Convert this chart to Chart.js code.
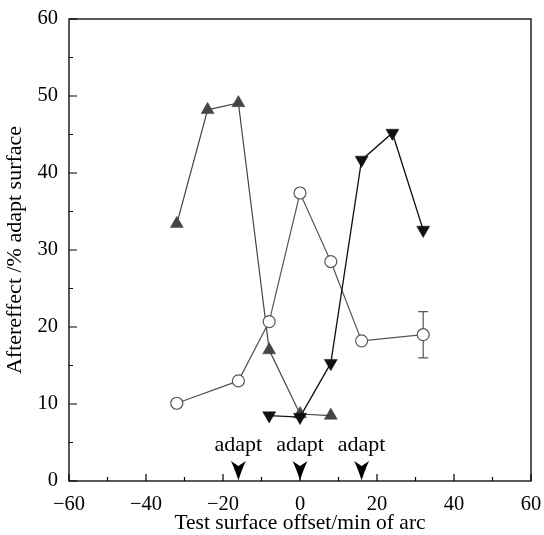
<!DOCTYPE html>
<html>
<head>
<meta charset="utf-8">
<script src="https://cdn.jsdelivr.net/npm/chart.js@4/dist/chart.umd.min.js"></script>
<style>
  html, body { margin: 0; padding: 0; background: #fff; }
  #wrap { width: 544px; height: 535px; }
</style>
</head>
<body>
<div id="wrap"><canvas id="chart"></canvas></div>
<script>
// Upward triangles (grey)
const upX = [-32, -24, -16, -8, 0, 8];
const upY = [33.4, 48.2, 49.1, 17.0, 8.7, 8.5];

// Open circles, last point carries an error bar
const circleX = [-32, -16, -8, 0, 8, 16, 32];
const circleY = [10.1, 13.0, 20.7, 37.4, 28.5, 18.2, 19.0];
const circleErr = [0, 0, 0, 0, 0, 0, 3];

// Downward triangles (black)
const downX = [-8, 0, 8, 16, 24, 32];
const downY = [8.5, 8.3, 15.3, 41.7, 45.2, 32.6];

// Adapt surface positions
const adaptX = [-16, 0, 16];
const adaptLabel = "adapt";

const FONT = "'Liberation Serif', 'DejaVu Serif', serif";

function toPoints(xs, ys) {
  return xs.map((x, i) => ({ x: x, y: ys[i] }));
}

function minusLabel(v) {
  return v < 0 ? "\u2212" + Math.abs(v) : String(v);
}

/**
 * Frame, inward ticks, error bars and the "adapt" arrows.
 */
const decorPlugin = {
  id: "decor",
  afterDatasetsDraw(chart) {
    const { ctx, chartArea: a, scales } = chart;
    const xs = scales.x;
    const ys = scales.y;
    ctx.save();

    // error bars on circles
    ctx.strokeStyle = "#555";
    ctx.lineWidth = 1.2;
    circleX.forEach((x, i) => {
      const e = circleErr[i];
      if (!e) return;
      const px = xs.getPixelForValue(x);
      const top = ys.getPixelForValue(circleY[i] + e);
      const bot = ys.getPixelForValue(circleY[i] - e);
      const c = ys.getPixelForValue(circleY[i]);
      ctx.beginPath();
      ctx.moveTo(px, top); ctx.lineTo(px, c - 6);
      ctx.moveTo(px, c + 6); ctx.lineTo(px, bot);
      ctx.moveTo(px - 5, top); ctx.lineTo(px + 5, top);
      ctx.moveTo(px - 5, bot); ctx.lineTo(px + 5, bot);
      ctx.stroke();
    });

    // frame
    ctx.strokeStyle = "#000";
    ctx.lineWidth = 1.3;
    ctx.strokeRect(a.left, a.top, a.right - a.left, a.bottom - a.top);

    // inward ticks
    ctx.lineWidth = 1.2;
    ctx.beginPath();
    for (let v = -60; v <= 60; v += 10) {
      const px = xs.getPixelForValue(v);
      const len = v % 20 === 0 ? 7 : 4;
      ctx.moveTo(px, a.bottom); ctx.lineTo(px, a.bottom - len);
    }
    for (let v = 0; v <= 60; v += 5) {
      const py = ys.getPixelForValue(v);
      const len = v % 10 === 0 ? 8 : 4;
      ctx.moveTo(a.left, py); ctx.lineTo(a.left + len, py);
    }
    ctx.stroke();

    // adapt labels and arrowheads
    ctx.fillStyle = "#000";
    ctx.font = "22px " + FONT;
    ctx.textAlign = "center";
    ctx.textBaseline = "middle";
    adaptX.forEach((x) => {
      const px = xs.getPixelForValue(x);
      ctx.fillText(adaptLabel, px, ys.getPixelForValue(4.7));
      const top = ys.getPixelForValue(2.6);
      const tip = ys.getPixelForValue(0.1);
      ctx.beginPath();
      ctx.moveTo(px, tip);
      ctx.quadraticCurveTo(px - 4, top + 7, px - 7.5, top);
      ctx.lineTo(px, top + 5);
      ctx.lineTo(px + 7.5, top);
      ctx.quadraticCurveTo(px + 4, top + 7, px, tip);
      ctx.closePath();
      ctx.fill();
    });

    ctx.restore();
  },
};

new Chart(document.getElementById("chart"), {
  type: "scatter",
  data: {
    datasets: [
      {
        label: "down",
        data: toPoints(downX, downY),
        showLine: true,
        borderColor: "#111",
        backgroundColor: "#111",
        borderWidth: 1.3,
        pointStyle: "triangle",
        rotation: 180,
        pointRadius: 7.5,
        pointBorderWidth: 0.5,
      },
      {
        label: "circle",
        data: toPoints(circleX, circleY),
        showLine: true,
        borderColor: "#555",
        backgroundColor: "#fff",
        pointBackgroundColor: "#fff",
        pointBorderColor: "#555",
        borderWidth: 1.2,
        pointStyle: "circle",
        pointRadius: 6,
        pointBorderWidth: 1.2,
      },
      {
        label: "up",
        data: toPoints(upX, upY),
        showLine: true,
        borderColor: "#444",
        backgroundColor: "#444",
        borderWidth: 1.2,
        pointStyle: "triangle",
        pointRadius: 7.5,
        pointBorderWidth: 0.5,
      },
    ],
  },
  options: {
    responsive: true,
    maintainAspectRatio: false,
    animation: false,
    events: [],
    layout: { padding: { top: 19, right: 13, left: 0, bottom: 0 } },
    plugins: {
      legend: { display: false },
      tooltip: { enabled: false },
    },
    scales: {
      x: {
        type: "linear",
        min: -60,
        max: 60,
        afterFit: (s) => {
          s.height = 54;
          s.paddingLeft = 0;
          s.paddingRight = 0;
        },
        grid: { display: false, drawTicks: false },
        border: { display: false },
        ticks: {
          stepSize: 20,
          padding: 11,
          color: "#000",
          font: { family: FONT, size: 20.5 },
          callback: (v) => minusLabel(v),
        },
        title: {
          display: true,
          text: "Test surface offset/min of arc",
          color: "#000",
          font: { family: FONT, size: 21.5 },
          padding: { top: 0, bottom: -1 },
        },
      },
      y: {
        type: "linear",
        min: 0,
        max: 60,
        afterFit: (s) => {
          s.width = 69;
          s.paddingTop = 0;
          s.paddingBottom = 0;
        },
        grid: { display: false, drawTicks: false },
        border: { display: false },
        ticks: {
          stepSize: 10,
          padding: 11,
          color: "#000",
          font: { family: FONT, size: 20.5 },
        },
        title: {
          display: true,
          text: "Aftereffect /% adapt surface",
          color: "#000",
          font: { family: FONT, size: 22 },
          padding: { top: 2, bottom: 0 },
        },
      },
    },
  },
  plugins: [decorPlugin],
});
</script>
</body>
</html>
